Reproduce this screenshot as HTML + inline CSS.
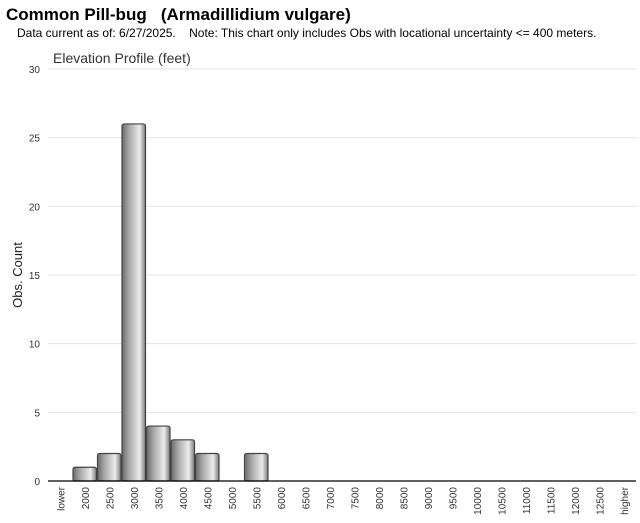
<!DOCTYPE html>
<html><head><meta charset="utf-8"><style>
body{margin:0;background:#fff;width:640px;height:523px;overflow:hidden;font-family:"Liberation Sans",sans-serif}
#t{position:absolute;left:6px;top:5px;font-size:17px;font-weight:bold;color:#000;white-space:pre}
#s{position:absolute;left:17px;top:26px;font-size:12px;color:#000;white-space:pre}
svg{position:absolute;left:0;top:0}
</style></head><body>
<div id="t">Common Pill-bug   (Armadillidium vulgare)</div>
<div id="s">Data current as of: 6/27/2025.    Note: This chart only includes Obs with locational uncertainty &lt;= 400 meters.</div>
<svg id="c" width="640" height="523">
<defs><linearGradient id="g" x1="0" x2="1" y1="0" y2="0">
<stop offset="0" stop-color="#6a6a6a"/><stop offset="0.3" stop-color="#a8a8a8"/><stop offset="0.75" stop-color="#ececec"/><stop offset="1" stop-color="#7a7a7a"/></linearGradient></defs>
<text x="53" y="63" font-size="14" fill="#333">Elevation Profile (feet)</text>
<text transform="translate(22,275) rotate(-90)" text-anchor="middle" font-size="13" fill="#222">Obs. Count</text>
</svg>
<script>
const categories=["lower","2000","2500","3000","3500","4000","4500","5000","5500","6000","6500","7000","7500","8000","8500","9000","9500","10000","10500","11000","11500","12000","12500","higher"];
const counts=[0,1,2,26,4,3,2,0,2,0,0,0,0,0,0,0,0,0,0,0,0,0,0,0];
const yTicks=[0,5,10,15,20,25,30];
const svg=document.getElementById('c');const NS='http://www.w3.org/2000/svg';
const x0=48,x1=636,y0=481,y1=69,yMax=30;
const bw=(x1-x0)/categories.length;
const y=v=>y0-(v/yMax)*(y0-y1);
const x=i=>x0+i*bw;
function mk(t,a){const e=document.createElementNS(NS,t);for(const k in a)e.setAttribute(k,a[k]);svg.appendChild(e);return e;}
yTicks.forEach(v=>{
 if(v>0){const l=mk('line',{x1:x0,x2:x1,y1:y(v),y2:y(v),stroke:'#e3e3e3'});
 
 }
 const t=mk('text',{x:40,y:y(v)+4,'text-anchor':'end','font-size':10,fill:'#333'});t.textContent=v;
 
 
});
counts.forEach((v,i)=>{
 if(v<=0)return;
 const r=mk('rect',{x:x(i)+0.5,y:y(v),width:bw-1,height:y0-y(v),rx:2,fill:'url(#g)',stroke:'#444','stroke-width':1.2});
 
 
});
const ax=mk('line',{x1:x0,x2:x1,y1:y0,y2:y0,stroke:'#000','stroke-width':1.2});


categories.forEach((c,i)=>{
 const cx=x(i)+bw/2+4;
 const t=mk('text',{transform:`translate(${cx},487) rotate(-90)`,'text-anchor':'end','font-size':10,fill:'#333'});t.textContent=c;
 
 
});
</script>
</body></html>
